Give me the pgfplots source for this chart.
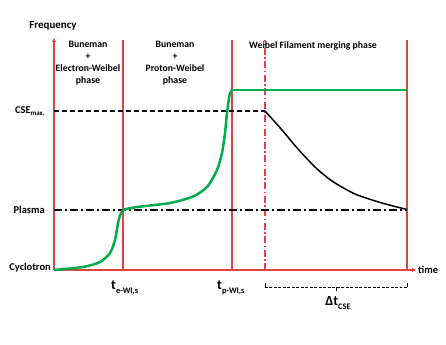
\documentclass[border=0pt]{standalone}
\usepackage{pgfplots}
\pgfplotsset{compat=1.18}
\usepackage{fontspec}
\setmainfont{Carlito}
\usetikzlibrary{arrows.meta}
\definecolor{axred}{RGB}{228,66,66}
\definecolor{cgreen}{RGB}{0,172,78}

\newcommand{\lab}{\fontsize{10.5}{12}\selectfont\bfseries}
\newcommand{\ph}{\fontsize{9.8}{12}\selectfont\bfseries}

\begin{document}
\begin{tikzpicture}
% picture space in pixels of the reference (y downwards)
\begin{axis}[width=446bp, height=345bp, scale only axis, hide axis, clip=false,
  xmin=0, xmax=446, ymin=0, ymax=345, y dir=reverse]
\addplot[draw=none, forget plot] coordinates {(0,0) (446,345)};

% axes
\addplot[axred, line width=1.4pt, -{Triangle[length=4pt,width=3.5pt]}] coordinates {(54,270) (54,38)};
\addplot[axred, line width=1.4pt, -{Triangle[length=4pt,width=3.5pt]}] coordinates {(54,270) (416,270)};

% phase boundaries
\addplot[axred, line width=1.3pt] coordinates {(123,270) (123,40)};
\addplot[axred, line width=1.3pt] coordinates {(232,270) (232,40)};
\addplot[axred, line width=1.3pt] coordinates {(407,270) (407,40)};
\addplot[axred, line width=1.3pt, dash pattern=on 7pt off 2.5pt on 1.5pt off 2.5pt] coordinates {(265,270) (265,40)};

% reference levels
\addplot[black, line width=1.1pt, dash pattern=on 5pt off 3pt] coordinates {(54,111) (265,111)};
\addplot[black, line width=1.1pt, dash pattern=on 8pt off 3pt on 2pt off 3pt] coordinates {(54,210) (407,210)};

% green frequency curve
\addplot[cgreen, line width=2.5pt, smooth, tension=0.45] coordinates {
  (54,270) (83,267) (100,262) (110,253) (115,240) (118,223) (121,213) (124,209.5)};
\addplot[cgreen, line width=2.5pt, smooth, tension=0.45] coordinates {
  (124,209.5) (137,207) (170,203) (193,196.5) (207,187) (217,170) (222,153)
  (225,133) (227,113) (230,93) (233,90)};
\addplot[cgreen, line width=2.5pt] coordinates {(233,90) (407,90)};

% CSE decay
\addplot[black, line width=1.5pt, smooth, tension=0.45] coordinates {
  (265,111) (282,130) (298,149) (315,167) (332,181) (355,194) (382,203) (407,209.5)};

% Delta t bracket
\addplot[black, line width=0.6pt] coordinates {(265,283) (265,287)};
\addplot[black, line width=0.6pt] coordinates {(407,283) (407,287)};
\addplot[black, line width=0.6pt] coordinates {(336,287) (336,291)};
\addplot[black, line width=0.6pt, dash pattern=on 3pt off 1.5pt] coordinates {(265,287) (407,287)};

% texts
\node[anchor=center] at (axis cs:53,26) {\fontsize{11}{13}\selectfont\bfseries Frequency};
\node[anchor=west, inner sep=0pt] at (axis cs:418,270) {\lab time};
\node[anchor=east, inner sep=0pt] at (axis cs:45,111) {\lab CSE\raisebox{-0.45ex}{\fontsize{7}{8}\selectfont max.}};
\node[anchor=east, inner sep=0pt] at (axis cs:45,210) {\lab Plasma};
\node[anchor=east, inner sep=0pt] at (axis cs:51,268) {\lab Cyclotron};

\node[align=center, inner sep=0pt, anchor=north] at (axis cs:88,41) {\ph Buneman\\ \ph +\\ \ph Electron-Weibel\\ \ph phase};
\node[align=center, inner sep=0pt, anchor=north] at (axis cs:175,41) {\ph Buneman\\ \ph +\\ \ph Proton-Weibel\\ \ph phase};
\node[align=center, inner sep=0pt, anchor=north] at (axis cs:313,41) {\ph Weibel Filament merging phase};

\node[anchor=west, inner sep=0pt] at (axis cs:111,288) {\fontsize{14}{16}\selectfont\bfseries t\raisebox{-0.55ex}{\fontsize{8.5}{10}\selectfont e-WI,s}};
\node[anchor=west, inner sep=0pt] at (axis cs:217,288) {\fontsize{14}{16}\selectfont\bfseries t\raisebox{-0.55ex}{\fontsize{8.5}{10}\selectfont p-WI,s}};
\node[anchor=center, inner sep=0pt] at (axis cs:338,303) {\fontsize{14}{16}\selectfont\bfseries Δt\raisebox{-0.55ex}{\fontsize{8.5}{10}\selectfont CSE}};
\end{axis}
\end{tikzpicture}
\end{document}
